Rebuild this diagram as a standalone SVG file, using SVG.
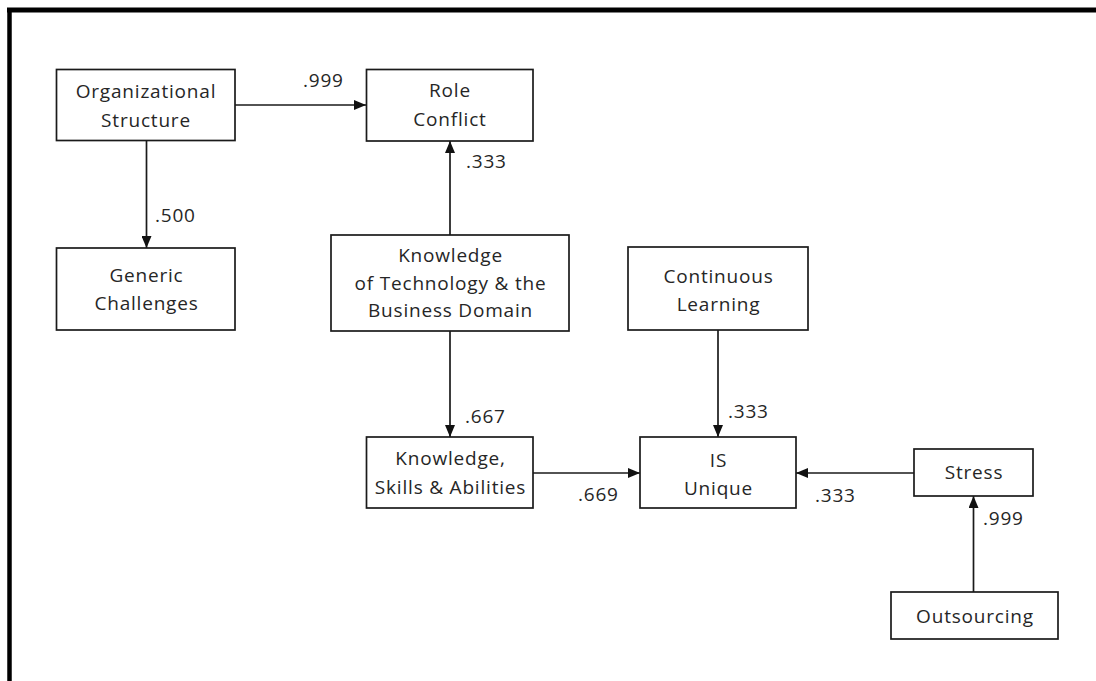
<svg xmlns="http://www.w3.org/2000/svg" width="1096" height="681" viewBox="0 0 1096 681">
<style>
.box{fill:#fff;stroke:#1a1a1a;stroke-width:1.7}
.t{font-family:"Open Sans","Liberation Sans",sans-serif;font-size:19px;letter-spacing:0.8px;fill:#262626;text-anchor:middle}
.l{font-family:"Open Sans","Liberation Sans",sans-serif;font-size:19px;letter-spacing:0.8px;fill:#262626}
.c{stroke:#1a1a1a;stroke-width:1.7;fill:none;marker-end:url(#ah)}
</style>
<defs>
<marker id="ah" viewBox="0 0 12 10" refX="12" refY="5" markerWidth="12" markerHeight="10" markerUnits="userSpaceOnUse" orient="auto">
<path d="M0,0 L12,5 L0,10 z" fill="#111"/>
</marker>
</defs>
<rect width="1096" height="681" fill="#fff"/>
<g id="frame">
<line x1="7" y1="10" x2="1096" y2="10" stroke="#000" stroke-width="5"/>
<line x1="9.5" y1="8" x2="9.5" y2="681" stroke="#000" stroke-width="4.5"/>
</g>
<g id="connectors">
<line class="c" x1="235" y1="105" x2="366" y2="105"/>
<line class="c" x1="146.5" y1="140" x2="146.5" y2="248"/>
<line class="c" x1="450" y1="235" x2="450" y2="141"/>
<line class="c" x1="450" y1="331" x2="450" y2="437"/>
<line class="c" x1="718" y1="330" x2="718" y2="437"/>
<line class="c" x1="533" y1="473" x2="640" y2="473"/>
<line class="c" x1="914" y1="473" x2="796" y2="473"/>
<line class="c" x1="973.5" y1="592" x2="973.5" y2="496"/>
<text class="l" x="303" y="87">.999</text>
<text class="l" x="155" y="222">.500</text>
<text class="l" x="466" y="168">.333</text>
<text class="l" x="465" y="423">.667</text>
<text class="l" x="728" y="418">.333</text>
<text class="l" x="578" y="501">.669</text>
<text class="l" x="815" y="502">.333</text>
<text class="l" x="983" y="525">.999</text>
</g>
<g id="org">
<rect class="box" x="56.5" y="69.5" width="178.5" height="71"/>
<text class="t" x="146" y="98">Organizational</text>
<text class="t" x="146" y="127">Structure</text>
</g>
<g id="role">
<rect class="box" x="366.5" y="69.5" width="166.5" height="71.5"/>
<text class="t" x="450" y="97">Role</text>
<text class="t" x="450" y="126">Conflict</text>
</g>
<g id="generic">
<rect class="box" x="56.5" y="248" width="178.5" height="82"/>
<text class="t" x="146.5" y="282">Generic</text>
<text class="t" x="146.5" y="310">Challenges</text>
</g>
<g id="ktb">
<rect class="box" x="331" y="235" width="238" height="96"/>
<text class="t" x="450.5" y="262">Knowledge</text>
<text class="t" x="450.5" y="290">of Technology &amp; the</text>
<text class="t" x="450.5" y="317">Business Domain</text>
</g>
<g id="continuous">
<rect class="box" x="628" y="247" width="180" height="83"/>
<text class="t" x="718.5" y="283">Continuous</text>
<text class="t" x="718.5" y="311">Learning</text>
</g>
<g id="ksa">
<rect class="box" x="366.5" y="437" width="166.5" height="71"/>
<text class="t" x="450.5" y="465">Knowledge,</text>
<text class="t" x="450.5" y="494">Skills &amp; Abilities</text>
</g>
<g id="is">
<rect class="box" x="640" y="437" width="156" height="71"/>
<text class="t" x="718.5" y="467">IS</text>
<text class="t" x="718.5" y="495">Unique</text>
</g>
<g id="stress">
<rect class="box" x="914" y="449" width="119" height="47"/>
<text class="t" x="974" y="479">Stress</text>
</g>
<g id="outsourcing">
<rect class="box" x="891" y="592" width="167" height="47"/>
<text class="t" x="975" y="623">Outsourcing</text>
</g>
</svg>
